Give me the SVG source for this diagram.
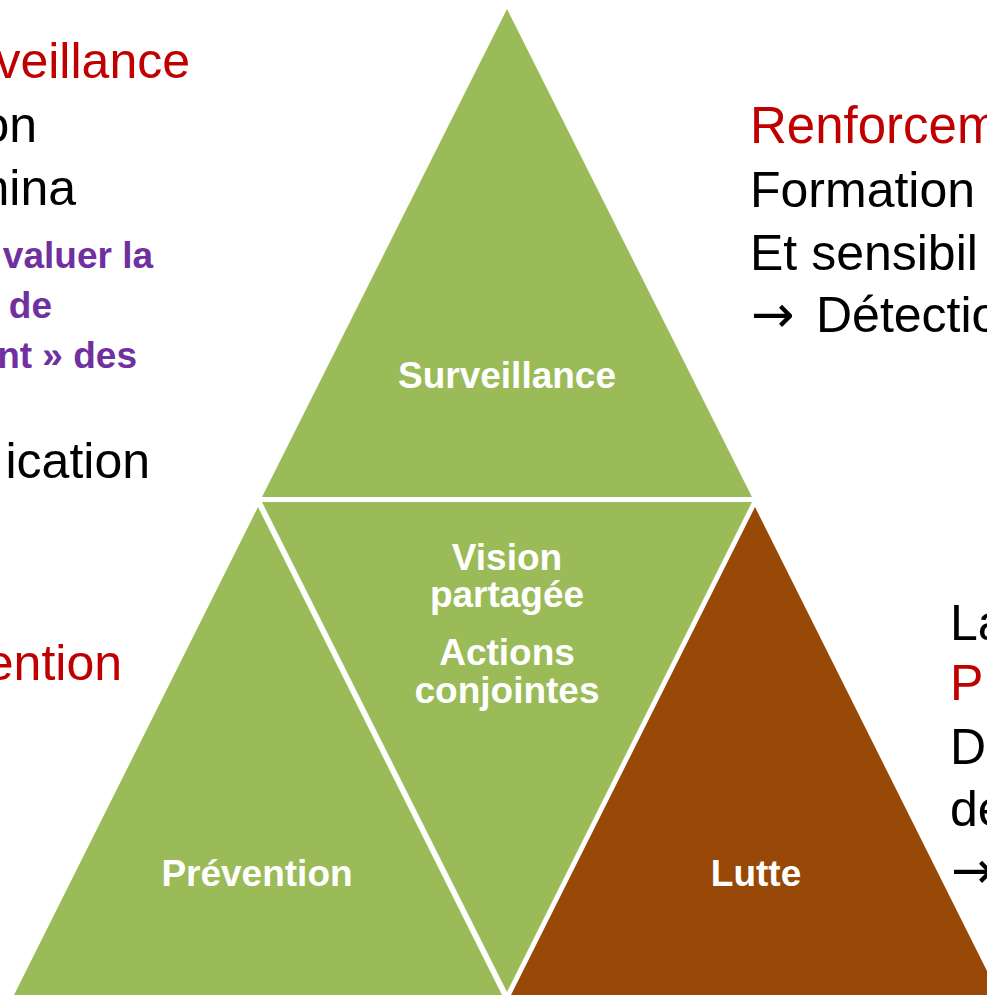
<svg xmlns="http://www.w3.org/2000/svg" width="987" height="995" viewBox="0 0 987 995">
<style>
.g{fill:#9BBB59}
.b{fill:#984807}
.in{font-family:"Liberation Sans",Arial,sans-serif;font-weight:bold;font-size:37px;fill:#FFFFFF;text-anchor:middle}
.t{font-family:"Liberation Sans",Arial,sans-serif;font-size:50px;fill:#000000}
.r{fill:#C00000}
.p{font-family:"Liberation Sans",Arial,sans-serif;font-weight:bold;font-size:37px;fill:#7030A0;text-anchor:end}
.e{text-anchor:end}
.ar{font-family:"DejaVu Sans",sans-serif;font-size:52px}
</style>
<rect width="987" height="995" fill="#FFFFFF"/>
<g id="surveillance">
<polygon class="g" points="507,9 752,497 262,497"/>
<text class="in" x="507" y="388">Surveillance</text>
</g>
<g id="centre">
<polygon class="g" points="262,502 752,502 507,992"/>
<text class="in" x="507" y="570">Vision</text>
<text class="in" x="507" y="607">partagée</text>
<text class="in" x="507" y="665">Actions</text>
<text class="in" x="507" y="703">conjointes</text>
</g>
<g id="prevention">
<polygon class="g" points="258,507 503,997 13,997"/>
<text class="in" x="257" y="886">Prévention</text>
</g>
<g id="lutte">
<polygon class="b" points="755,507 1000,997 510,997"/>
<text class="in" x="756" y="886">Lutte</text>
</g>
<g id="connectors"></g>
<g id="texte-gauche">
<text class="t r e" x="190" y="78">veillance</text>
<text class="t e" x="37" y="142">on</text>
<text class="t e" x="76" y="205">mina</text>
<text class="p" x="153" y="268">valuer la</text>
<text class="p" x="52" y="318">de</text>
<text class="p" x="137" y="368">nt » des</text>
<text class="t e" x="150" y="478">ication</text>
<text class="t r e" x="122" y="680">ention</text>
</g>
<g id="texte-droite">
<text class="t r" x="750" y="143" style="font-size:51px">Renforcem</text>
<text class="t" x="750" y="207">Formation</text>
<text class="t" x="750" y="270">Et sensibil</text>
<text class="t" x="751" y="332"><tspan class="ar">→</tspan><tspan x="816">Détectio</tspan></text>
<text class="t" x="950" y="640">La</text>
<text class="t r" x="950" y="700">P</text>
<text class="t" x="950" y="764">D</text>
<text class="t" x="950" y="826">de</text>
<text class="t ar" x="951" y="888">→</text>
</g>
</svg>
